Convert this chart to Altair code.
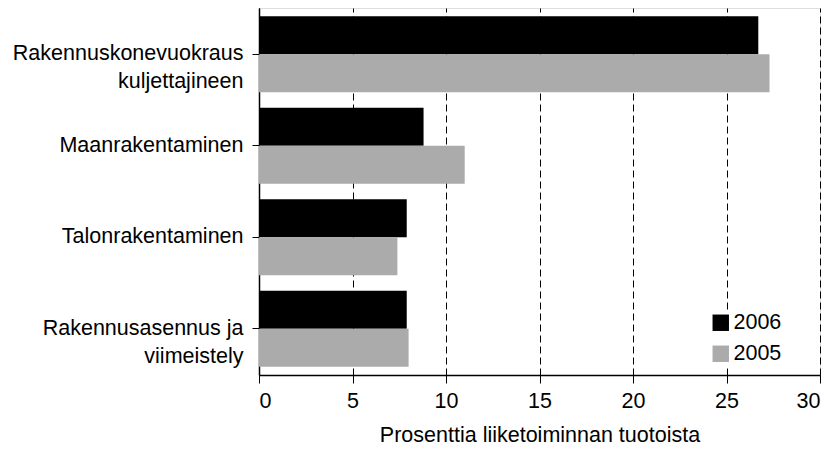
import altair as alt
import pandas as pd

categories = ["Rakennuskonevuokraus|kuljettajineen", "Maanrakentaminen",
              "Talonrakentaminen", "Rakennusasennus ja|viimeistely"]
years = ["2006", "2005"]
values_2006 = [26.7, 8.8, 7.9, 7.9]
values_2005 = [27.3, 11.0, 7.4, 8.0]
colors = ["#000000", "#ababab"]
x_ticks = [0, 5, 10, 15, 20, 25, 30]

rows = []
for c, v6, v5 in zip(categories, values_2006, values_2005):
    rows.append({"cat": c, "year": "2006", "value": v6})
    rows.append({"cat": c, "year": "2005", "value": v5})
df = pd.DataFrame(rows)

FONT = "Liberation Sans"
FS = 21.5

chart = alt.Chart(df).mark_bar().encode(
    y=alt.Y("cat:N", sort=categories, title=None,
            scale=alt.Scale(paddingInner=0.17, paddingOuter=0.09),
            axis=alt.Axis(labelExpr="split(datum.label, '|')", labelFontSize=FS,
                          labelFont=FONT, labelColor="black", labelLineHeight=28,
                          domainColor="black", domainWidth=1.5, tickColor="black",
                          tickSize=7, labelPadding=9, labelLimit=400)),
    yOffset=alt.YOffset("year:N", sort=years, scale=alt.Scale(domain=years, paddingInner=0)),
    x=alt.X("value:Q", title="Prosenttia liiketoiminnan tuotoista",
            scale=alt.Scale(domain=[0, 30], nice=False),
            axis=alt.Axis(values=x_ticks, grid=True, gridColor="black", gridDash=[7, 4],
                          gridOpacity=1, gridWidth=1, domainColor="black", domainWidth=1.5,
                          tickColor="black", tickSize=8, labelFontSize=FS, labelFont=FONT,
                          labelColor="black", titleFont=FONT, titleFontSize=FS,
                          titleFontWeight="normal", titleColor="black", titlePadding=13,
                          labelPadding=7)),
    color=alt.Color("year:N", scale=alt.Scale(domain=years, range=colors),
                    legend=alt.Legend(title=None, orient="none", legendX=451, legendY=304,
                                      symbolType="square", symbolSize=270,
                                      symbolStrokeWidth=0, labelFontSize=FS,
                                      labelFont=FONT, labelColor="black",
                                      rowPadding=8, labelOffset=2,
                                      fillColor="white")),
).properties(width=561, height=367).configure_view(stroke=None).configure(
    background="white", padding={"left": 4, "top": 0, "right": 5, "bottom": 0}
)

chart.save("out.html", embed_options={"renderer": "svg", "actions": False})
